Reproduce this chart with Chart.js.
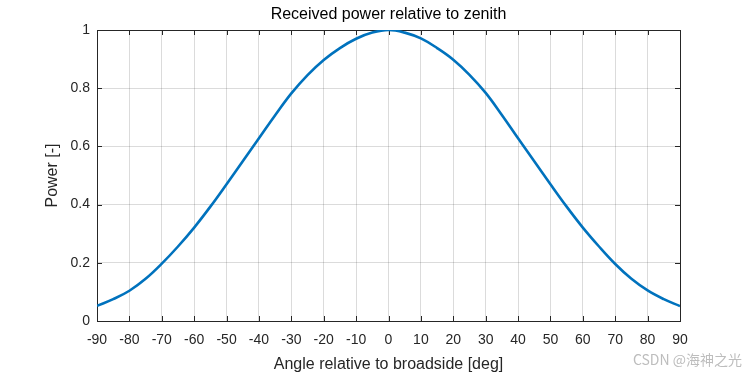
<!DOCTYPE html>
<html>
<head>
<meta charset="utf-8">
<script src="https://cdn.jsdelivr.net/npm/chart.js@4/dist/chart.umd.min.js"></script>
<style>
  html, body { margin: 0; padding: 0; background: #ffffff; }
  #wrap { width: 750px; height: 375px; }
</style>
</head>
<body>
<div id="wrap"><canvas id="c" width="750" height="375"></canvas></div>
<script>
// ---- data ----
const angles = [-90,-85,-80,-75,-70,-65,-60,-55,-50,-45,-40,-35,-30,-25,-20,-15,-10,-5,0,
                5,10,15,20,25,30,35,40,45,50,55,60,65,70,75,80,85,90];
const power  = [0.052,0.075,0.104,0.145,0.197,0.256,0.321,0.393,0.470,0.549,0.628,0.707,0.782,0.845,0.897,0.938,0.970,0.991,1.000,
                0.991,0.971,0.938,0.898,0.846,0.784,0.708,0.628,0.549,0.470,0.393,0.321,0.256,0.196,0.145,0.105,0.075,0.051];
const xTickValues = [-90,-80,-70,-60,-50,-40,-30,-20,-10,0,10,20,30,40,50,60,70,80,90];
const yTickValues = [0,0.2,0.4,0.6,0.8,1];
const titleText = 'Received power relative to zenith';
const xTitle = 'Angle relative to broadside [deg]';
const yTitle = 'Power [-]';
const watermark = 'CSDN @海神之光';

const FONT = "'Liberation Sans', Arial, Helvetica, sans-serif";
const AXIS_COLOR = '#262626';

const boxPlugin = {
  id: 'matlabBox',
  beforeDatasetsDraw(chart) {
    const {ctx, chartArea: a, scales: {x, y}} = chart;
    ctx.save();
    ctx.strokeStyle = AXIS_COLOR;
    ctx.lineWidth = 1;
    const tl = 5;
    ctx.beginPath();
    xTickValues.forEach(v => {
      const px = Math.round(x.getPixelForValue(v)) + 0.5;
      ctx.moveTo(px, a.bottom); ctx.lineTo(px, a.bottom - tl);
      ctx.moveTo(px, a.top); ctx.lineTo(px, a.top + tl);
    });
    yTickValues.forEach(v => {
      const py = Math.round(y.getPixelForValue(v)) + 0.5;
      ctx.moveTo(a.left, py); ctx.lineTo(a.left + tl, py);
      ctx.moveTo(a.right, py); ctx.lineTo(a.right - tl, py);
    });
    ctx.stroke();
    ctx.strokeRect(Math.round(a.left) + 0.5, Math.round(a.top) + 0.5,
                   Math.round(a.right - a.left), Math.round(a.bottom - a.top));
    ctx.restore();
  },
  afterDraw(chart) {
    const {ctx, chartArea: a} = chart;
    ctx.save();
    // title centred over the plot box
    ctx.fillStyle = '#000000';
    ctx.font = "16px " + FONT;
    ctx.textAlign = 'center';
    ctx.textBaseline = 'middle';
    ctx.fillText(titleText, (a.left + a.right) / 2, 15);
    // watermark
    ctx.fillStyle = '#bdbdbd';
    ctx.font = "14px 'Noto Sans CJK SC', 'Liberation Sans', sans-serif";
    ctx.textAlign = 'right';
    ctx.fillText(watermark, 742, 360);
    ctx.restore();
  }
};

new Chart(document.getElementById('c'), {
  type: 'line',
  data: {
    datasets: [{
      data: angles.map((a, i) => ({x: a, y: power[i]})),
      borderColor: '#0072BD',
      borderWidth: 2.6,
      pointRadius: 0,
      tension: 0.4,
      fill: false
    }]
  },
  options: {
    responsive: false,
    animation: false,
    devicePixelRatio: 1,
    layout: { padding: { left: 0, right: 70, top: 30, bottom: 0 } },
    plugins: {
      legend: { display: false },
      tooltip: { enabled: false },
      title: { display: false }
    },
    scales: {
      x: {
        type: 'linear',
        min: -90, max: 90,
        afterBuildTicks(s) { s.ticks = xTickValues.map(v => ({value: v})); },
        afterFit(s) { s.height = 54; },
        grid: { color: 'rgba(0,0,0,0.14)', drawTicks: false, lineWidth: 1 },
        border: { display: false },
        ticks: { color: AXIS_COLOR, font: { family: FONT, size: 14 }, padding: 11, maxRotation: 0, autoSkip: false },
        title: { display: true, text: xTitle, color: AXIS_COLOR, font: { family: FONT, size: 16 }, padding: { top: 0, bottom: 1 } }
      },
      y: {
        type: 'linear',
        min: 0, max: 1,
        afterBuildTicks(s) { s.ticks = yTickValues.map(v => ({value: v})); },
        afterFit(s) { s.width = 97; },
        grid: { color: 'rgba(0,0,0,0.14)', drawTicks: false, lineWidth: 1 },
        border: { display: false },
        ticks: { color: AXIS_COLOR, font: { family: FONT, size: 14 }, padding: 7,
                 callback: v => String(Math.round(v * 10) / 10) },
        title: { display: true, text: yTitle, color: AXIS_COLOR, font: { family: FONT, size: 16 }, padding: { top: 43, bottom: 0 } }
      }
    }
  },
  plugins: [boxPlugin]
});
</script>
</body>
</html>
